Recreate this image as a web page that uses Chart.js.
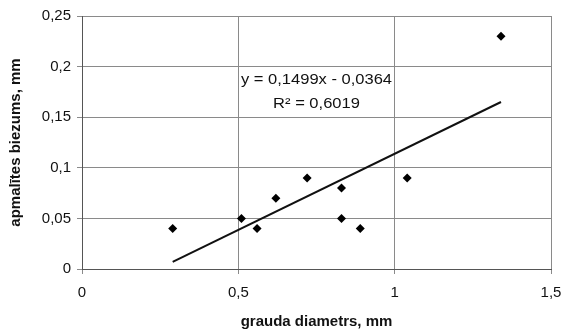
<!DOCTYPE html>
<html>
<head>
<meta charset="utf-8">
<script src="https://cdn.jsdelivr.net/npm/chart.js@4/dist/chart.umd.min.js"></script>
<style>
  body { margin: 0; background: #fff; }
</style>
</head>
<body>
<canvas id="myChart" width="563" height="331"></canvas>
<script>
// measured points
const grainX = [0.29, 0.51, 0.56, 0.62, 0.72, 0.83, 0.83, 0.89, 1.04, 1.34];
const layerY = [0.04, 0.05, 0.04, 0.07, 0.09, 0.08, 0.05, 0.04, 0.09, 0.23];

// trendline ends
const trendX = [0.29, 1.34];
const trendY = [0.007, 0.165];

const xTicks = [0, 0.5, 1, 1.5];
const yTicks = [0, 0.05, 0.1, 0.15, 0.2, 0.25];

const eqLines = ['y = 0,1499x - 0,0364', 'R² = 0,6019'];

const FONT = '"Liberation Sans", Arial, sans-serif';

function fmt(v) {
    return String(Math.round(v * 100) / 100).replace('.', ',');
}

const points = grainX.map((x, i) => ({ x: x, y: layerY[i] }));
const trend = trendX.map((x, i) => ({ x: x, y: trendY[i] }));

// equation label, slightly wide like the original
const eqPlugin = {
    id: 'eqText',
    afterDatasetsDraw(chart) {
        const ctx = chart.ctx;
        const xs = chart.scales.x, ys = chart.scales.y;
        const cx = xs.getPixelForValue(0.75);
        ctx.save();
        ctx.fillStyle = '#111';
        ctx.font = '14px ' + FONT;
        ctx.textAlign = 'center';
        ctx.textBaseline = 'middle';
        ctx.translate(cx, 0);
        ctx.scale(1.18, 1);
        ctx.fillText(eqLines[0], 0, ys.getPixelForValue(0.187));
        ctx.fillText(eqLines[1], 0, ys.getPixelForValue(0.163));
        ctx.restore();
    }
};

const ctx = document.getElementById('myChart').getContext('2d');
new Chart(ctx, {
    type: 'scatter',
    data: {
        datasets: [{
            data: points,
            pointStyle: 'rectRot',
            pointRadius: 4.5,
            backgroundColor: '#000',
            borderColor: '#000',
            borderWidth: 0,
            order: 1
        }, {
            type: 'line',
            data: trend,
            showLine: true,
            borderColor: '#111',
            borderWidth: 2,
            pointRadius: 0,
            fill: false,
            order: 2
        }]
    },
    options: {
        responsive: false,
        animation: false,
        layout: { padding: { top: 16, right: 12, left: 7, bottom: 0 } },
        plugins: {
            legend: { display: false },
            tooltip: { enabled: false }
        },
        scales: {
            x: {
                type: 'linear',
                min: 0,
                max: 1.5,
                afterBuildTicks: axis => { axis.ticks = xTicks.map(v => ({ value: v })); },
                afterFit: axis => {
                    axis.height = 62;
                    axis.paddingLeft = 0;
                    axis.paddingRight = 0;
                },
                ticks: {
                    color: '#111',
                    font: { family: FONT, size: 15 },
                    padding: 10,
                    maxRotation: 0,
                    callback: v => fmt(v)
                },
                grid: { color: '#8a8a8a', lineWidth: 1, tickLength: 5 },
                border: { color: '#555', width: 1 },
                title: {
                    display: true,
                    text: 'grauda diametrs, mm',
                    color: '#111',
                    font: { family: FONT, size: 15, weight: 'bold' },
                    padding: { top: 6, bottom: 0 }
                }
            },
            y: {
                type: 'linear',
                min: 0,
                max: 0.25,
                afterBuildTicks: axis => { axis.ticks = yTicks.map(v => ({ value: v })); },
                afterFit: axis => {
                    axis.width = 75;
                    axis.paddingTop = 0;
                    axis.paddingBottom = 0;
                },
                ticks: {
                    color: '#111',
                    font: { family: FONT, size: 15 },
                    padding: 6,
                    callback: v => fmt(v)
                },
                grid: { color: '#8a8a8a', lineWidth: 1, tickLength: 5 },
                border: { color: '#555', width: 1 },
                title: {
                    display: true,
                    text: 'apmalītes biezums, mm',
                    color: '#111',
                    font: { family: FONT, size: 15, weight: 'bold' },
                    padding: { top: 0, bottom: 5 }
                }
            }
        }
    },
    plugins: [eqPlugin]
});
</script>
</body>
</html>
